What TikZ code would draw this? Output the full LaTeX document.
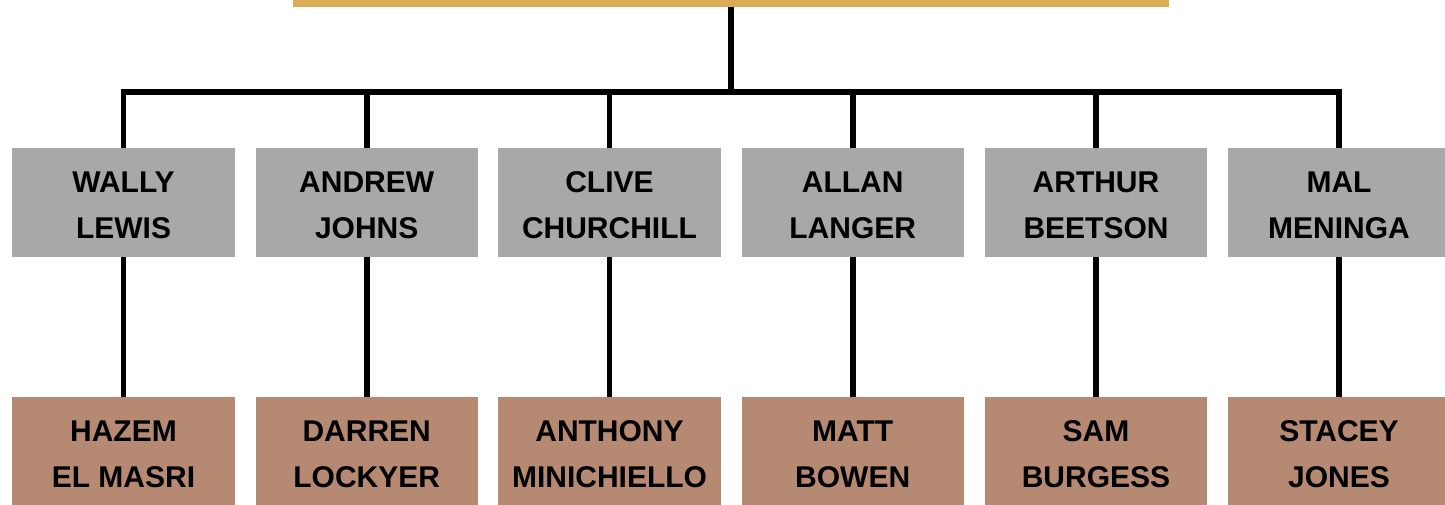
\documentclass[tikz,border=0pt]{standalone}
\usepackage{fontspec}
\setmainfont{Liberation Sans}
\definecolor{goldbar}{RGB}{218,172,86}
\definecolor{graybox}{RGB}{168,168,168}
\definecolor{brownbox}{RGB}{182,138,114}
\newcommand\nametext[2]{\raisebox{-3pt}[\height][\depth]{\parbox{220pt}{\centering #1\\#2}}}
\tikzset{
  parentbox/.style={rectangle, fill=graybox, draw=none, minimum width=222.3pt, minimum height=108.7pt, inner sep=0pt, align=center, font=\fontsize{30}{46}\selectfont\bfseries},
  childbox/.style={parentbox, fill=brownbox},
  link/.style={line width=5.8pt, draw=black, line join=miter}
}
\begin{document}
\begin{tikzpicture}[x=1pt,y=-1pt]
\useasboundingbox (0,0) rectangle (1445,505);
\node[rectangle, fill=goldbar, minimum width=876pt, minimum height=6.7pt, inner sep=0pt] (root) at (731,3.35) {};
\foreach \i/\x/\a/\b/\c/\d in {1/123.5/WALLY/LEWIS/HAZEM/EL MASRI,2/366.7/ANDREW/JOHNS/DARREN/LOCKYER,3/609.5/CLIVE/CHURCHILL/ANTHONY/MINICHIELLO,4/852.7/ALLAN/LANGER/MATT/BOWEN,5/1096/ARTHUR/BEETSON/SAM/BURGESS,6/1339/MAL/MENINGA/STACEY/JONES}{
  \node[parentbox] (p\i) at (\x,202.4) {\nametext{\a}{\b}};
  \node[childbox] (c\i) at (\x,451.3) {\nametext{\c}{\d}};
  \draw[link] (p\i.south) -- (c\i.north);
}
\coordinate (bus) at (731,92);
\draw[link] (p1.north) -- (p1.north |- bus) -- (p6.north |- bus) -- (p6.north);
\foreach \i in {2,3,4,5}{
  \draw[link] (p\i.north) -- (p\i.north |- bus);
}
\draw[link] (root.south) -- (bus);
\end{tikzpicture}
\end{document}
